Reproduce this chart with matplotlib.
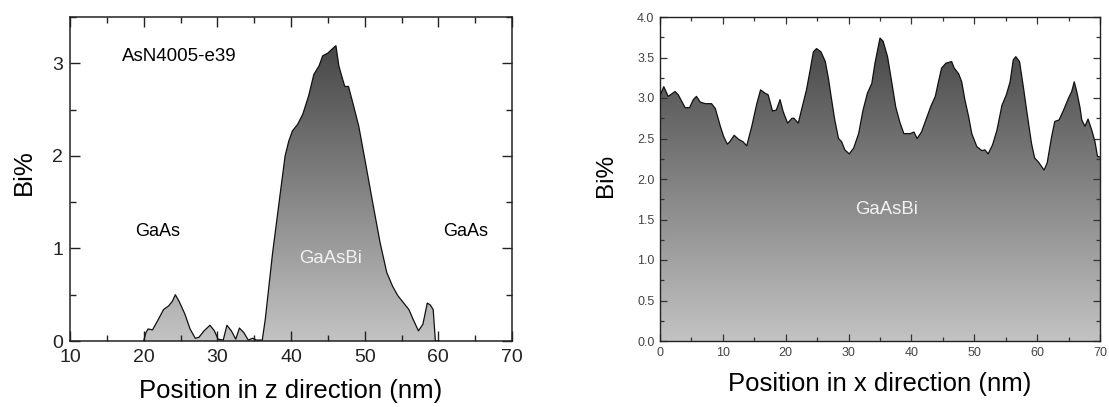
import numpy as np
import matplotlib
matplotlib.use("Agg")
import matplotlib.pyplot as plt
from matplotlib.colors import LinearSegmentedColormap
from matplotlib.patches import PathPatch
from matplotlib.ticker import MultipleLocator, FormatStrFormatter

plt.rcParams['font.family'] = ['Liberation Sans', 'DejaVu Sans']

# Bi profile along the growth (z) direction
z_nm = [20.0, 20.3, 20.6, 21.2, 21.9, 22.7, 23.4, 23.9, 24.3, 24.8, 25.6, 26.3,
        27.0, 27.5, 28.2, 29.0, 29.6, 30.1, 30.8, 31.3, 31.9, 32.5, 33.0, 33.6,
        34.2, 34.8, 35.3, 36.1, 36.5, 37.5, 38.5, 39.2, 39.7, 40.2, 40.9, 41.6,
        42.4, 43.1, 43.8, 44.3, 45.0, 45.8, 46.1, 46.5, 47.0, 47.3, 47.8, 48.4,
        49.2, 50.1, 51.1, 52.1, 53.0, 53.8, 54.5, 55.3, 56.0, 56.6, 57.3, 57.9,
        58.5, 58.9, 59.3, 59.6, 60.1]
bi_z = [0.0, 0.09, 0.13, 0.12, 0.22, 0.34, 0.38, 0.43, 0.50, 0.43, 0.29, 0.13,
        0.03, 0.04, 0.11, 0.17, 0.11, 0.02, 0.01, 0.17, 0.11, 0.02, 0.14, 0.09,
        0.01, 0.03, 0.01, 0.01, 0.23, 0.95, 1.57, 2.00, 2.16, 2.27, 2.34, 2.45,
        2.65, 2.88, 2.97, 3.08, 3.11, 3.17, 3.19, 2.97, 2.83, 2.75, 2.75, 2.57,
        2.32, 1.93, 1.49, 1.06, 0.74, 0.59, 0.49, 0.41, 0.34, 0.23, 0.11, 0.18,
        0.41, 0.39, 0.34, 0.0, 0.0]

# Bi profile along the in-plane (x) direction
x_nm = [0.0, 0.6, 1.3, 2.4, 2.9, 4.0, 4.7, 5.3, 5.8, 6.4, 7.2, 8.2, 8.8, 9.6,
        10.1, 10.7, 11.1, 11.8, 12.5, 13.2, 13.8, 14.6, 15.4, 16.0, 16.7, 17.2,
        17.9, 18.5, 19.1, 19.6, 20.3, 21.0, 21.3, 22.0, 22.5, 23.3, 23.9, 24.4,
        24.9, 25.6, 26.3, 26.8, 27.3, 27.8, 28.4, 28.9, 29.4, 30.1, 30.8, 31.6,
        32.3, 33.0, 33.7, 34.2, 35.0, 35.5, 36.2, 36.9, 37.5, 38.2, 38.8, 39.8,
        40.4, 40.9, 41.6, 42.4, 43.1, 43.8, 44.3, 44.8, 45.5, 46.4, 46.8, 47.5,
        48.0, 48.5, 49.1, 49.6, 50.4, 51.2, 51.7, 52.2, 52.9, 53.6, 54.4, 55.1,
        55.7, 56.2, 56.6, 57.2, 57.8, 58.4, 59.1, 59.6, 60.2, 61.1, 61.6, 62.3,
        62.8, 63.5, 64.2, 65.0, 65.5, 65.9, 66.3, 66.8, 67.1, 67.6, 68.1, 68.7,
        69.2, 69.6, 70.0]
bi_x = [3.03, 3.14, 3.02, 3.08, 3.04, 2.88, 2.88, 2.98, 3.02, 2.95, 2.93, 2.93,
        2.87, 2.65, 2.53, 2.43, 2.46, 2.54, 2.49, 2.46, 2.41, 2.65, 2.93, 3.10,
        3.06, 3.04, 2.84, 2.85, 2.98, 2.83, 2.69, 2.75, 2.75, 2.69, 2.85, 3.10,
        3.35, 3.57, 3.61, 3.57, 3.45, 3.24, 2.98, 2.73, 2.50, 2.46, 2.36, 2.31,
        2.38, 2.56, 2.85, 3.06, 3.18, 3.43, 3.74, 3.70, 3.51, 3.18, 2.89, 2.69,
        2.56, 2.56, 2.58, 2.50, 2.58, 2.75, 2.90, 3.02, 3.20, 3.37, 3.43, 3.45,
        3.37, 3.30, 3.20, 2.98, 2.77, 2.56, 2.40, 2.35, 2.36, 2.31, 2.42, 2.60,
        2.91, 3.04, 3.20, 3.47, 3.51, 3.45, 3.14, 2.81, 2.44, 2.26, 2.21, 2.11,
        2.20, 2.52, 2.71, 2.73, 2.85, 3.00, 3.08, 3.20, 3.08, 2.89, 2.73, 2.65,
        2.74, 2.60, 2.46, 2.28, 2.27]

fade = LinearSegmentedColormap.from_list('grey_fade', ['#c3c3c3', '#454545'])


def shaded_profile(ax, x, y, top):
    """Area under the profile, shaded light at the bottom and dark at the top."""
    band = ax.fill_between(x, y, 0, facecolor='none', edgecolor='none')
    outline = PathPatch(band.get_paths()[0], transform=ax.transData,
                        facecolor='none', edgecolor='none')
    ax.add_patch(outline)
    ramp = np.linspace(0, 1, 256).reshape(-1, 1)
    im = ax.imshow(ramp, cmap=fade, origin='lower', aspect='auto',
                   extent=[min(x), max(x), 0, top], zorder=1,
                   interpolation='bilinear')
    im.set_clip_path(outline)
    ax.plot(x, y, color='#111111', lw=0.9, zorder=3)


fig = plt.figure(figsize=(11.09, 4.07), dpi=100)
ax1 = fig.add_axes([70 / 1109, 66 / 407, 442 / 1109, 324 / 407])
ax2 = fig.add_axes([660 / 1109, 66 / 407, 440 / 1109, 324 / 407])

# Left panel: depth profile
shaded_profile(ax1, z_nm, bi_z, 3.25)
ax1.set_xlim(10, 70)
ax1.set_ylim(0, 3.5)
ax1.xaxis.set_major_locator(MultipleLocator(10))
ax1.xaxis.set_minor_locator(MultipleLocator(5))
ax1.yaxis.set_major_locator(MultipleLocator(1))
ax1.yaxis.set_minor_locator(MultipleLocator(0.5))
ax1.tick_params(which='both', direction='in', top=True, right=True,
                labelsize=14, width=1.0, colors='#222222')
ax1.tick_params(axis='x', which='both', pad=5.5)
ax1.tick_params(axis='y', which='both', pad=5)
ax1.tick_params(which='major', length=7)
ax1.tick_params(which='minor', length=4)
for s in ax1.spines.values():
    s.set_linewidth(1.1)
    s.set_color('#222222')
ax1.set_xlabel('Position in z direction (nm)', fontsize=18.5)
ax1.set_ylabel('Bi%', fontsize=18.5)
ax1.xaxis.set_label_coords(0.5, -0.117)
ax1.yaxis.set_label_coords(-0.078, 0.52)
ax1.text(17.0, 3.07, 'AsN4005-e39', fontsize=13.5, ha='left', va='center')
ax1.text(21.9, 1.18, 'GaAs', fontsize=13, ha='center', va='center')
ax1.text(63.7, 1.18, 'GaAs', fontsize=13, ha='center', va='center')
ax1.text(45.4, 0.89, 'GaAsBi', fontsize=13.4, ha='center', va='center',
         color='#f2f2f2', zorder=4)

# Right panel: lateral profile
shaded_profile(ax2, x_nm, bi_x, 3.8)
ax2.set_xlim(0, 70)
ax2.set_ylim(0, 4.0)
ax2.xaxis.set_major_locator(MultipleLocator(10))
ax2.xaxis.set_minor_locator(MultipleLocator(5))
ax2.yaxis.set_major_locator(MultipleLocator(0.5))
ax2.yaxis.set_minor_locator(MultipleLocator(0.25))
ax2.yaxis.set_major_formatter(FormatStrFormatter('%.1f'))
ax2.tick_params(which='both', direction='in', top=True, right=True,
                labelsize=9, pad=4, width=0.9, colors='#333333',
                labelcolor='#444444')
ax2.tick_params(which='major', length=5)
ax2.tick_params(which='minor', length=3)
for s in ax2.spines.values():
    s.set_linewidth(1.0)
    s.set_color('#222222')
ax2.set_xlabel('Position in x direction (nm)', fontsize=18.5)
ax2.set_ylabel('Bi%', fontsize=17.5)
ax2.xaxis.set_label_coords(0.5, -0.097)
ax2.yaxis.set_label_coords(-0.098, 0.51)
ax2.text(36.1, 1.62, 'GaAsBi', fontsize=13.4, ha='center', va='center',
         color='#f2f2f2', zorder=4)

fig.savefig('out.png', dpi=100, facecolor='white')
